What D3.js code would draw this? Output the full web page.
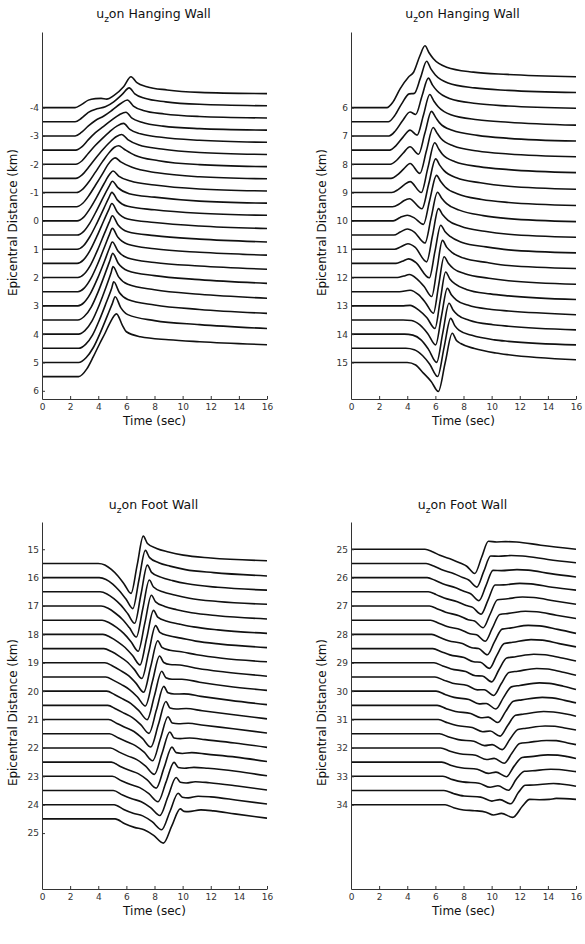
<!DOCTYPE html>
<html>
<head>
<meta charset="utf-8">
<script src="https://cdnjs.cloudflare.com/ajax/libs/d3/7.8.5/d3.min.js"></script>
<style>
  body { margin: 0; background: #fff; }
  text { font-family: "DejaVu Sans", sans-serif; }
</style>
</head>
<body>
<script>
// u_z record sections, amplitude in plot units, each trace sits at its epicentral distance (km)
var timeTicks = [0, 2, 4, 6, 8, 10, 12, 14, 16];
var gain = 0.0352; // km of offset per amplitude unit

// hanging wall, near stations
var hw1Ticks = [-4, -3, -2, -1, 0, 1, 2, 3, 4, 5, 6];
var hw1Dist = [-4, -3.5, -3, -2.5, -2, -1.5, -1, -0.5, 0, 0.5, 1, 1.5, 2, 2.5, 3, 3.5, 4, 4.5, 5, 5.5];
var hw1Waves = [
  [[0,0],[2.35,0],[2.8,3],[3.3,7.5],[3.8,9],[4.2,9.3],[4.6,8.5],[5.1,12],[5.8,21],[6.33,31],[6.75,25],[7.45,21],[8.9,17.7],[11.2,15.3],[16,14]],
  [[0,0],[2.35,0],[2.8,3.5],[3.3,9.5],[3.9,13],[4.5,15],[5.1,20],[5.7,27.5],[6.2,34],[6.6,28],[7.3,23.5],[8.8,20],[11.2,17.5],[16,16]],
  [[0,0],[2.35,0],[2.8,3.5],[3.3,10],[3.8,15.5],[4.4,20],[5.0,26],[5.6,32.5],[6.07,36],[6.5,30],[7.2,25.5],[8.7,22],[11.2,19.5],[16,18]],
  [[0,0],[2.4,0],[2.85,3.5],[3.3,10.5],[3.8,17.5],[4.3,23],[4.9,29.5],[5.5,35.5],[5.97,38],[6.4,32],[7.1,28],[8.6,24],[11.2,21.5],[16,20]],
  [[0,0],[2.4,0],[2.85,3.5],[3.3,11],[3.8,19],[4.3,26],[4.8,32.5],[5.35,38.5],[5.8,41],[6.25,35],[7.0,30.5],[8.5,27],[11.2,24],[16,22]],
  [[0,0],[2.4,0],[2.85,3.5],[3.3,11],[3.8,20],[4.3,28.5],[4.8,36],[5.3,42],[5.67,44],[6.1,39],[6.9,33.5],[8.5,29.5],[11.2,26],[16,24]],
  [[0,0],[2.45,0],[2.9,3.5],[3.35,11],[3.8,20.5],[4.3,31],[4.8,40.5],[5.15,45.5],[5.45,47],[5.85,43.5],[6.6,37.5],[8.3,32],[11.2,28],[16,26]],
  [[0,0],[2.45,0],[2.9,3.5],[3.35,11.5],[3.8,21.5],[4.3,33],[4.7,42.5],[5.0,47.5],[5.2,49],[5.6,45],[6.4,39.5],[8.2,34],[11.2,30],[16,28]],
  [[0,0],[2.5,0],[2.95,3.5],[3.4,12],[3.9,24],[4.4,37],[4.8,46.5],[5.05,50],[5.45,45],[6.3,40],[8.0,36],[11.2,32],[16,30]],
  [[0,0],[2.5,0],[2.95,3.5],[3.4,12],[3.9,25],[4.4,39],[4.8,49.5],[5.0,54],[5.4,47.5],[6.2,41.5],[8.0,38],[11.2,34],[16,32]],
  [[0,0],[2.5,0],[2.95,3.5],[3.4,12.5],[3.9,26],[4.4,41],[4.75,51.5],[4.97,57],[5.35,49.5],[6.1,43],[8,39.5],[11.2,36],[16,34]],
  [[0,0],[2.5,0],[2.95,3.5],[3.4,12.5],[3.9,27],[4.4,43],[4.75,54],[4.97,60],[5.35,51.5],[6.1,44.5],[8,41],[11.2,37.5],[16,35]],
  [[0,0],[2.55,0],[3.0,3.5],[3.45,12.5],[3.95,27.5],[4.45,44.5],[4.8,56],[5.0,62],[5.4,53],[6.1,46],[8,42],[11.2,38.5],[16,35.7]],
  [[0,0],[2.55,0],[3.0,3.5],[3.45,12.5],[3.95,27.5],[4.45,45],[4.8,57.5],[5.0,63.5],[5.4,54.5],[6.1,47.5],[8,43],[11.2,39.5],[16,36.7]],
  [[0,0],[2.55,0],[3.0,3.5],[3.45,12.5],[3.95,27.5],[4.45,45],[4.8,58],[5.0,64],[5.4,55],[6.1,48],[8,43.5],[11.2,40],[16,36.7]],
  [[0,0],[2.55,0],[3.0,3.5],[3.5,13],[4.0,28.5],[4.5,47],[4.85,60.5],[5.02,67],[5.42,57],[6.1,49.5],[8,44.5],[11.2,40.5],[16,36.7]],
  [[0,0],[2.6,0],[3.05,3.5],[3.55,13],[4.05,28.5],[4.55,47],[4.9,61],[5.05,67.7],[5.45,57.5],[6.1,50],[8,44.5],[11.2,40],[16,36]],
  [[0,0],[2.6,0],[3.1,4],[3.6,13.5],[4.1,29],[4.6,47],[4.95,60],[5.1,66.7],[5.5,56],[6.1,49],[8,43.5],[11.2,39],[16,35]],
  [[0,0],[2.6,0],[3.15,5],[3.65,15],[4.15,30],[4.65,47],[5.0,59],[5.2,66],[5.6,55],[6.1,48],[8,42],[11.2,38],[16,34]],
  [[0,0],[2.6,0],[3.2,8],[3.65,20],[4.1,33],[4.5,44],[4.8,53],[5.3,63],[5.7,52],[6.0,45],[7.0,40],[9,37],[11.2,35],[16,32]]
];

// hanging wall, far stations
var hw2Ticks = [6, 7, 8, 9, 10, 11, 12, 13, 14, 15];
var hw2Dist = [6, 6.5, 7, 7.5, 8, 8.5, 9, 9.5, 10, 10.5, 11, 11.5, 12, 12.5, 13, 13.5, 14, 14.5, 15];
var hw2Waves = [
  [[0,0],[2.55,0],[3.0,6],[3.5,19],[4.08,30.5],[4.45,35.5],[4.9,52],[5.26,62],[5.55,55],[5.86,49],[6.8,40.6],[8.7,35.6],[11.1,33.3],[16,31]],
  [[0,0],[2.65,0],[3.1,6],[3.6,18],[4.14,28],[4.5,28.5],[4.94,44],[5.38,60.7],[5.68,53],[6.0,47],[6.9,39],[8.8,34],[11.2,31.5],[16,29.3]],
  [[0,0],[2.7,0],[3.15,5],[3.65,15],[4.2,24],[4.6,21.5],[5.05,40],[5.5,58],[5.8,51],[6.1,45.5],[7.0,37.5],[8.9,32.5],[11.2,30],[16,27.7]],
  [[0,0],[2.75,0],[3.2,4.5],[3.7,13],[4.2,20],[4.7,15],[5.15,35],[5.6,55.7],[5.9,49],[6.2,43.5],[7.1,35.5],[9,30.5],[11.2,28],[16,25]],
  [[0,0],[2.8,0],[3.25,4],[3.7,11],[4.2,17.5],[4.8,10],[5.26,31.5],[5.72,53],[6.02,47],[6.3,41.5],[7.2,34],[9,29],[11.2,26],[16,23.3]],
  [[0,0],[2.85,0],[3.3,3.5],[3.75,9.5],[4.2,15],[4.9,5],[5.37,28],[5.84,51],[6.14,45],[6.4,40],[7.3,32.5],[9,27.5],[11.2,24.5],[16,21.7]],
  [[0,0],[2.9,0],[3.35,3],[3.8,8],[4.2,11],[5.0,0],[5.47,25],[5.95,50],[6.25,43.5],[6.5,38.5],[7.4,31],[9.1,26],[11.2,23],[16,20]],
  [[0,0],[2.95,0],[3.4,2.5],[3.75,6],[4.15,8],[5.05,-2],[5.53,23],[6.02,48],[6.32,41.5],[6.6,36.5],[7.5,29],[9.2,24],[11.2,20.5],[16,17.5]],
  [[0,0],[3.0,0],[3.5,3.5],[4.0,5.7],[4.5,3],[5.15,-3.5],[5.6,21],[6.08,45.7],[6.38,39.5],[6.7,34],[7.6,27],[9.3,21.5],[11.2,18.5],[16,15.5]],
  [[0,0],[3.05,0],[3.5,3],[4.0,6],[4.5,3],[5.26,-8],[5.7,17.5],[6.15,43],[6.45,37],[6.8,31.5],[7.7,25],[9.4,19.5],[11.2,16.5],[16,13.5]],
  [[0,0],[3.1,0],[3.55,2.5],[4.05,5.5],[4.55,2],[5.38,-12.7],[5.8,14],[6.22,40.7],[6.52,34.5],[6.9,29],[7.8,23],[9.5,18],[11.2,15],[16,12]],
  [[0,0],[3.2,0],[3.65,2],[4.1,4.5],[4.6,1],[5.57,-14.5],[5.97,12],[6.38,38.3],[6.68,32],[7.05,27],[7.9,21],[9.6,16.5],[11.2,13.5],[16,10.5]],
  [[0,0],[3.3,0],[3.75,1.5],[4.15,3],[4.7,-1.5],[5.2,-9],[5.74,-19],[6.12,9],[6.5,37.3],[6.8,30.5],[7.2,25],[8,19.5],[9.7,15],[11.2,12],[16,9]],
  [[0,0],[3.45,0],[4.2,1.5],[4.8,-3],[5.3,-11],[5.86,-21.7],[6.24,7],[6.62,35],[6.92,28.5],[7.3,23],[8.1,18],[9.8,13.5],[11.2,11],[16,7.5]],
  [[0,0],[3.6,0],[4.2,0.5],[4.8,-4],[5.4,-12],[5.97,-22.7],[6.35,6],[6.73,34],[7.03,27],[7.4,22],[8.2,16.5],[9.9,12],[11.2,10],[16,6.3]],
  [[0,0],[3.7,0],[4.3,-0.5],[4.9,-5],[5.45,-13.5],[6.02,-25],[6.43,3.5],[6.85,31.7],[7.15,25],[7.5,20],[8.3,15],[10,10.5],[11.2,9],[16,5.2]],
  [[0,0],[3.8,0],[4.4,-1],[5.0,-6],[5.5,-15],[6.09,-28.3],[6.53,1.5],[6.97,31],[7.27,24],[7.6,19],[8.4,14],[10.1,9.5],[11.2,8],[16,4.3]],
  [[0,0],[3.9,0],[4.5,-1.5],[5.1,-7.5],[5.6,-16],[6.16,-28.3],[6.62,1],[7.09,30],[7.39,22.5],[7.7,18],[8.6,13],[10.2,8.5],[11.2,7],[16,3.4]],
  [[0,0],[4.0,0],[4.6,-2.5],[5.15,-10.7],[5.7,-19],[6.21,-29],[6.7,0],[7.2,29.3],[7.5,22],[7.8,19],[8.78,14],[10.3,9.5],[11.2,7.7],[16,2.7]]
];

// foot wall, near stations
var fw1Ticks = [15, 16, 17, 18, 19, 20, 21, 22, 23, 24, 25];
var fw1Dist = [15.5, 16, 16.5, 17, 17.5, 18, 18.5, 19, 19.5, 20, 20.5, 21, 21.5, 22, 22.5, 23, 23.5, 24, 24.5];
var fw1Waves = [
  [[0,0],[4.0,0],[4.47,-1.5],[4.93,-6],[5.4,-12.6],[5.86,-21],[6.33,-30],[6.77,-1.4],[7.2,27.3],[7.5,20],[8.15,15],[9.0,11.5],[10.05,8.3],[12,5.5],[16,2.7]],
  [[0,0],[4.07,0],[4.55,-1.8],[5.03,-6.4],[5.5,-13.1],[5.98,-21.7],[6.46,-31],[6.9,-1.9],[7.35,27.3],[7.65,20],[8.3,15],[9.1,11.5],[10.2,8],[12.2,5],[16,1.7]],
  [[0,0],[4.13,0],[4.62,-2.1],[5.11,-6.8],[5.61,-13.3],[6.1,-22],[6.59,-31.5],[7.04,-2.4],[7.49,26.7],[7.79,19.5],[8.44,14.7],[9.29,11.2],[10.34,8],[12.5,4.5],[16,1.7]],
  [[0,0],[4.2,0],[4.7,-2.3],[5.2,-7],[5.71,-13.2],[6.21,-21.6],[6.71,-31],[7.17,-2.5],[7.63,26],[7.93,19],[8.58,14.3],[9.43,11],[10.48,7.8],[12.5,4.5],[16,1.7]],
  [[0,0],[4.27,0],[4.78,-2.6],[5.3,-7.2],[5.81,-13.2],[6.33,-21.6],[6.84,-31],[7.31,-3],[7.78,25],[8.08,18.3],[8.73,13.8],[9.58,10.5],[10.63,7.5],[12.5,4.5],[16,1.2]],
  [[0,0],[4.33,0],[4.86,-2.8],[5.39,-7.4],[5.91,-13.1],[6.44,-21.2],[6.97,-30.5],[7.45,-3.3],[7.93,24],[8.23,17.3],[8.88,13.2],[9.73,10.5],[10.78,7.5],[12.5,4.5],[16,1]],
  [[0,0],[4.4,0],[4.94,-3],[5.48,-7.5],[6.02,-12.9],[6.56,-20.8],[7.1,-30],[7.59,-3.5],[8.08,23],[8.38,16.3],[9.03,12.8],[9.88,10.5],[10.93,7.5],[12.7,4.5],[16,1]],
  [[0,0],[4.47,0],[5.02,-3.2],[5.57,-7.6],[6.13,-12.7],[6.68,-20.4],[7.23,-29.5],[7.73,-3.8],[8.23,22],[8.53,15.5],[9.1,12.5],[9.9,11],[11.0,8],[12.8,4.5],[16,1]],
  [[0,0],[4.53,0],[5.09,-3.4],[5.66,-7.7],[6.22,-12.6],[6.79,-20],[7.35,-29],[7.86,-4],[8.36,21],[8.66,14.5],[9.1,12.5],[9.8,12],[11.1,8.5],[13,5],[16,0.8]],
  [[0,0],[4.6,0],[5.18,-3.6],[5.75,-7.8],[6.33,-12.4],[6.9,-19.7],[7.48,-28.5],[8.0,-4.3],[8.51,20],[8.81,13.5],[9.25,12],[9.95,12],[11.2,9],[13.2,5],[16,0.8]],
  [[0,0],[4.67,0],[5.26,-3.7],[5.85,-7.9],[6.43,-12.2],[7.02,-19.3],[7.61,-28],[8.14,-4.5],[8.66,19],[8.96,12.5],[9.4,11.3],[10.1,11.5],[11.3,9],[13.4,5],[16,0.7]],
  [[0,0],[4.73,0],[5.33,-3.9],[5.93,-8],[6.54,-12],[7.14,-18.9],[7.74,-27.5],[8.28,-4.8],[8.81,18],[9.11,11.5],[9.55,10.5],[10.25,11],[11.4,8.8],[13.5,5],[16,0.7]],
  [[0,0],[4.8,0],[5.41,-4.1],[6.03,-8.1],[6.64,-11.9],[7.26,-18.5],[7.87,-27],[8.42,-5],[8.96,17],[9.26,10.8],[9.7,10],[10.4,10.5],[11.5,8.5],[13.6,5],[16,0.7]],
  [[0,0],[4.87,0],[5.49,-4.2],[6.12,-8.2],[6.74,-11.7],[7.37,-18.2],[7.99,-26.5],[8.54,-5.3],[9.09,16],[9.39,10],[9.83,9.3],[10.5,10],[11.6,8.3],[13.7,5],[16,0.6]],
  [[0,0],[4.93,0],[5.57,-4.3],[6.21,-8.2],[6.84,-11.5],[7.48,-17.8],[8.12,-26],[8.68,-5.5],[9.24,15],[9.54,9.5],[9.98,8.7],[10.65,9.5],[11.7,8],[13.8,5],[16,0.6]],
  [[0,0],[5.0,0],[5.65,-4.5],[6.3,-8.3],[6.95,-11.3],[7.6,-17.4],[8.25,-25.5],[8.82,-5.8],[9.39,14],[9.69,8.8],[10.13,8],[10.8,9],[11.8,8],[13.8,5],[16,0.5]],
  [[0,0],[5.07,0],[5.73,-4.6],[6.39,-8.3],[7.06,-11.2],[7.72,-17.1],[8.38,-25],[8.96,-6],[9.54,13],[9.84,8.3],[10.25,7.5],[10.9,8.8],[11.9,7.8],[13.9,4.5],[16,0.5]],
  [[0,0],[5.13,0],[5.81,-4.8],[6.48,-8.6],[7.16,-11.2],[7.83,-17],[8.51,-25],[9.1,-6.8],[9.68,11.5],[9.98,7.5],[10.4,6.8],[11.1,8.5],[12,7.8],[13.9,4.5],[16,0.7]],
  [[0,0],[5.2,0],[5.89,-4.9],[6.57,-8.5],[7.26,-10.9],[7.94,-16.5],[8.63,-24.3],[9.23,-7],[9.83,10],[10.1,7.5],[10.4,7.3],[11.3,9],[12.2,8],[13.7,5],[16,0.7]]
];

// foot wall, far stations
var fw2Ticks = [25, 26, 27, 28, 29, 30, 31, 32, 33, 34];
var fw2Dist = [25, 25.5, 26, 26.5, 27, 27.5, 28, 28.5, 29, 29.5, 30, 30.5, 31, 31.5, 32, 32.5, 33, 33.5, 34];
var fw2Waves = [
  [[0,0],[5.26,0],[5.79,-2.4],[6.32,-6.1],[7.21,-10.4],[7.81,-14.1],[8.23,-17],[8.8,-24.3],[9.29,-8],[9.77,8],[10.36,7.3],[11.0,7.6],[11.78,7.3],[13.5,4],[16,0]],
  [[0,0],[5.34,0],[5.88,-2.6],[6.42,-6.1],[7.33,-10.3],[7.94,-14.1],[8.37,-16.6],[8.95,-23.7],[9.44,-8],[9.93,7.5],[10.5,7.2],[11.4,8],[12.2,7.5],[14,4],[16,0.7]],
  [[0,0],[5.42,0],[5.97,-2.7],[6.52,-6.2],[7.44,-10.1],[8.07,-13.9],[8.51,-16.1],[9.1,-23],[9.6,-8],[10.1,7.3],[10.7,7],[11.8,8],[12.6,7.5],[14.2,4],[16,0.7]],
  [[0,0],[5.5,0],[6.06,-2.8],[6.63,-6.2],[7.56,-9.9],[8.2,-13.8],[8.65,-15.6],[9.25,-22.4],[9.75,-8],[10.25,6.8],[10.85,7],[12.0,8.5],[12.8,8],[14.3,4.5],[16,1.7]],
  [[0,0],[5.58,0],[6.15,-2.9],[6.73,-6.2],[7.68,-9.7],[8.33,-13.7],[8.79,-15.1],[9.4,-21.7],[9.9,-8],[10.42,6.3],[11.0,7],[12.2,9],[13.0,8.5],[14.5,5],[16,1.7]],
  [[0,0],[5.66,0],[6.24,-3],[6.83,-6.3],[7.8,-9.5],[8.46,-13.6],[8.93,-14.6],[9.55,-21.1],[10.05,-8],[10.58,5.8],[11.2,6.8],[12.4,9],[13.2,8.5],[14.6,5],[16,1.7]],
  [[0,0],[5.74,0],[6.33,-3.1],[6.93,-6.3],[7.92,-9.2],[8.59,-13.4],[9.07,-14.1],[9.7,-20.4],[10.2,-7.5],[10.75,5.3],[11.4,6.5],[12.6,9],[13.4,8.5],[14.7,5],[16,1]],
  [[0,0],[5.82,0],[6.42,-3.1],[7.03,-6.3],[8.04,-9],[8.72,-13.2],[9.21,-13.7],[9.85,-19.8],[10.35,-7.3],[10.9,5],[11.5,6.3],[12.8,9],[13.6,8.5],[14.8,5],[16,1.7]],
  [[0,0],[5.9,0],[6.52,-3.2],[7.13,-6.2],[8.16,-8.8],[8.85,-13],[9.34,-13.2],[10.0,-19.1],[10.52,-7],[11.07,4.7],[11.7,6],[13.0,8.5],[13.8,8],[14.9,5],[16,1.7]],
  [[0,0],[5.97,0],[6.6,-3.2],[7.22,-6.2],[8.27,-8.6],[8.98,-12.9],[9.48,-12.8],[10.15,-18.5],[10.68,-6.8],[11.23,4.5],[11.85,5.8],[13.2,8.5],[14.0,8],[15,5],[16,1.7]],
  [[0,0],[6.05,0],[6.69,-3.3],[7.33,-6.2],[8.39,-8.4],[9.11,-12.7],[9.62,-12.3],[10.3,-17.9],[10.84,-6.5],[11.4,4.3],[12.0,5.7],[13.4,8.3],[14.1,7.8],[15.1,5],[16,1.7]],
  [[0,0],[6.13,0],[6.78,-3.3],[7.43,-6.1],[8.51,-8.1],[9.24,-12.4],[9.76,-11.8],[10.45,-17.2],[10.99,-6.3],[11.55,4.2],[12.15,5.5],[13.6,8],[14.3,7.5],[15.2,5],[16,2.5]],
  [[0,0],[6.21,0],[6.87,-3.3],[7.53,-6],[8.62,-7.9],[9.37,-12.2],[9.9,-11.4],[10.6,-16.6],[11.14,-6],[11.7,4.2],[12.3,5.5],[13.7,8],[14.4,7.5],[15.3,5.5],[16,3.3]],
  [[0,0],[6.29,0],[6.96,-3.3],[7.63,-5.9],[8.74,-7.6],[9.5,-11.9],[10.04,-10.9],[10.75,-15.9],[11.3,-5.5],[11.87,4.3],[12.45,5.5],[13.8,7.8],[14.5,7.5],[15.3,5.5],[16,3.7]],
  [[0,0],[6.37,0],[7.05,-3.3],[7.73,-5.8],[8.86,-7.4],[9.63,-11.6],[10.18,-10.5],[10.9,-15.3],[11.45,-5],[12.0,4.5],[12.6,5.5],[13.9,7.5],[14.6,7.3],[15.4,5],[16,3.3]],
  [[0,0],[6.45,0],[7.14,-3.3],[7.83,-5.7],[8.98,-7.1],[9.76,-11.3],[10.31,-10],[11.05,-14.6],[11.6,-4],[12.17,4.7],[12.8,5.5],[14.0,7.3],[14.7,7],[15.4,5.5],[16,3.7]],
  [[0,0],[6.53,0],[7.23,-3.3],[7.93,-5.6],[9.1,-6.9],[9.89,-11],[10.45,-9.5],[11.2,-14],[11.75,-3],[12.33,5],[12.9,5.5],[14.2,7],[14.8,6.8],[15.5,5.5],[16,4.7]],
  [[0,0],[6.61,0],[7.32,-3.2],[8.03,-5.5],[9.22,-6.6],[10.02,-10.6],[10.59,-9.1],[11.35,-13.3],[11.9,-2],[12.4,5.3],[13.0,5.5],[14.4,7],[14.9,6.5],[15.5,5.5],[16,4.3]],
  [[0,0],[6.69,0],[7.3,-3],[8.0,-5.3],[8.8,-6],[9.6,-7.5],[10.12,-10.3],[10.7,-8.7],[11.5,-12.7],[12.2,-1.3],[12.7,5.3],[13.4,5],[14.1,5.3],[14.6,6.3],[16,5.3]]
];

var W = 585, H = 944;
var svg = d3.select('body').append('svg')
   .attr("width", W)
   .attr("height", H);

var panels = [
  {wall: "Hanging Wall", dist: hw1Dist, waves: hw1Waves, ticks: hw1Ticks, ylim: [-6.67, 6.29], left: 42,  top: 32},
  {wall: "Hanging Wall", dist: hw2Dist, waves: hw2Waves, ticks: hw2Ticks, ylim: [3.33, 16.29], left: 351, top: 32},
  {wall: "Foot Wall",    dist: fw1Dist, waves: fw1Waves, ticks: fw1Ticks, ylim: [14.04, 26.97], left: 42,  top: 522},
  {wall: "Foot Wall",    dist: fw2Dist, waves: fw2Waves, ticks: fw2Ticks, ylim: [24.04, 36.97], left: 351, top: 522}
];
var pw = 225, ph = 367;

panels.forEach(function(p) {
  var g = svg.append('g').attr('transform', 'translate(' + p.left + ',' + p.top + ')');

  var x = d3.scaleLinear().domain([0, 16]).range([0, pw]);
  var y = d3.scaleLinear().domain(p.ylim).range([0, ph]);

  var line = d3.line()
    .x(function(d) { return x(d[0]); })
    .y(function(d) { return d[1]; })
    .curve(d3.curveMonotoneX);

  g.selectAll('path.trace')
    .data(p.waves)
    .enter()
    .append('path')
    .attr('class', 'trace')
    .attr('d', function(w, i) {
      var d0 = p.dist[i];
      return line(w.map(function(pt) { return [pt[0], y(d0 - gain * pt[1])]; }));
    })
    .attr('fill', 'none')
    .attr('stroke', '#111')
    .attr('stroke-width', 1.6)
    .attr('stroke-linejoin', 'round');

  var yAxis = g.append('g')
    .call(d3.axisLeft(y).tickValues(p.ticks).tickSize(-3).tickSizeOuter(0).tickPadding(3)
      .tickFormat(function(d) { return String(d); }));
  var xAxis = g.append('g')
    .attr('transform', 'translate(0,' + ph + ')')
    .call(d3.axisBottom(x).tickValues(timeTicks).tickSize(-3).tickSizeOuter(0).tickPadding(5));

  [yAxis, xAxis].forEach(function(a) {
    a.select('.domain').attr('stroke', '#333').attr('stroke-width', 1);
    a.selectAll('.tick line').attr('stroke', '#333');
    a.selectAll('.tick text').attr('fill', '#333').style('font-size', '9px')
      .style('font-family', '"DejaVu Sans", sans-serif');
  });

  // title: u_z on ...
  var title = g.append('text')
    .attr('x', pw / 2 - 1)
    .attr('y', p.top === 32 ? -14.5 : -13.5)
    .attr('text-anchor', 'middle')
    .style('font-size', '12.5px')
    .attr('fill', '#111');
  title.append('tspan').text('u');
  title.append('tspan').attr('dy', 4).style('font-size', '9px').text('z');
  title.append('tspan').attr('dy', -4).text('on ' + p.wall);

  g.append('text')
    .attr('x', pw / 2)
    .attr('y', ph + 26)
    .attr('text-anchor', 'middle')
    .style('font-size', '12px')
    .attr('fill', '#111')
    .text('Time (sec)');

  var cy = ph / 2 + 7;
  g.append('text')
    .attr('transform', 'translate(-29,' + cy + ') rotate(-90)')
    .attr('text-anchor', 'middle')
    .attr('dy', '0.35em')
    .attr('textLength', 147)
    .attr('lengthAdjust', 'spacingAndGlyphs')
    .style('font-size', '12px')
    .attr('fill', '#111')
    .text('Epicentral Distance (km)');
});
</script>
</body>
</html>
